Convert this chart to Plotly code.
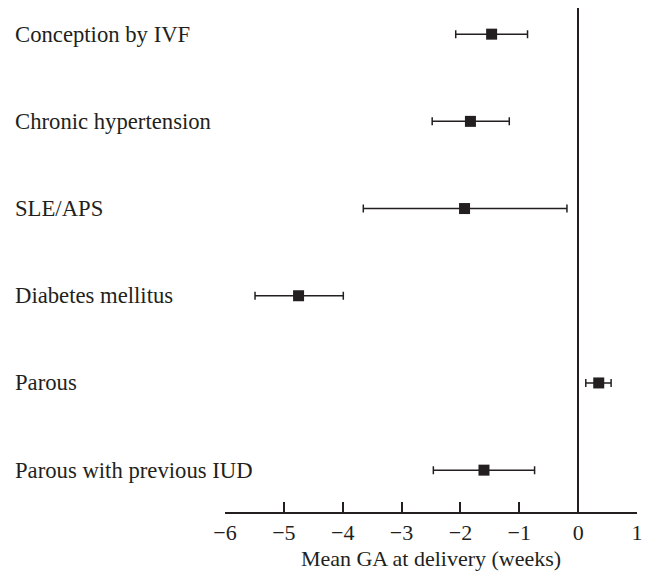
import plotly.graph_objects as go

categories = ["Conception by IVF", "Chronic hypertension", "SLE/APS",
              "Diabetes mellitus", "Parous", "Parous with previous IUD"]
mean_ga = [-1.47, -1.83, -1.93, -4.75, 0.35, -1.60]
ci_low = [-2.08, -2.48, -3.65, -5.49, 0.13, -2.46]
ci_high = [-0.86, -1.17, -0.19, -3.99, 0.56, -0.74]
x_ticks = [-6, -5, -4, -3, -2, -1, 0, 1]

ink = "#231f20"
font_family = "Liberation Serif"
fs = 22
rows = list(range(len(categories)))

fig = go.Figure()
fig.add_trace(go.Scatter(
    x=mean_ga, y=rows, mode="markers",
    marker=dict(symbol="square", size=11, color=ink),
    error_x=dict(type="data", symmetric=False,
                 array=[h - m for h, m in zip(ci_high, mean_ga)],
                 arrayminus=[m - l for m, l in zip(mean_ga, ci_low)],
                 color=ink, thickness=1.5, width=4),
    showlegend=False, hoverinfo="skip"))

for r, c in zip(rows, categories):
    fig.add_annotation(text=c, x=-0.515, xref="paper", y=r, yref="y",
                       xanchor="left", yanchor="middle", showarrow=False,
                       font=dict(family=font_family, size=22.7, color=ink))

fig.update_layout(
    width=643, height=569,
    margin=dict(l=217, r=14, t=0, b=65),
    plot_bgcolor="white", paper_bgcolor="white",
    font=dict(family=font_family, size=fs, color=ink),
    xaxis=dict(range=[-6, 1], tickvals=x_ticks, ticks="inside", ticklen=10,
               tickwidth=1.5, tickcolor=ink, showline=True, linecolor=ink,
               linewidth=1.5, showgrid=False, zeroline=True, zerolinecolor=ink,
               zerolinewidth=1.5, tickfont=dict(family=font_family, size=fs, color=ink),
               title=dict(text="Mean GA at delivery (weeks)", standoff=6,
                          font=dict(family=font_family, size=fs, color=ink))),
    yaxis=dict(range=[5.48, -0.3], showticklabels=False, showgrid=False,
               zeroline=False, showline=False, ticks=""),
)

fig.write_html("out.html")
